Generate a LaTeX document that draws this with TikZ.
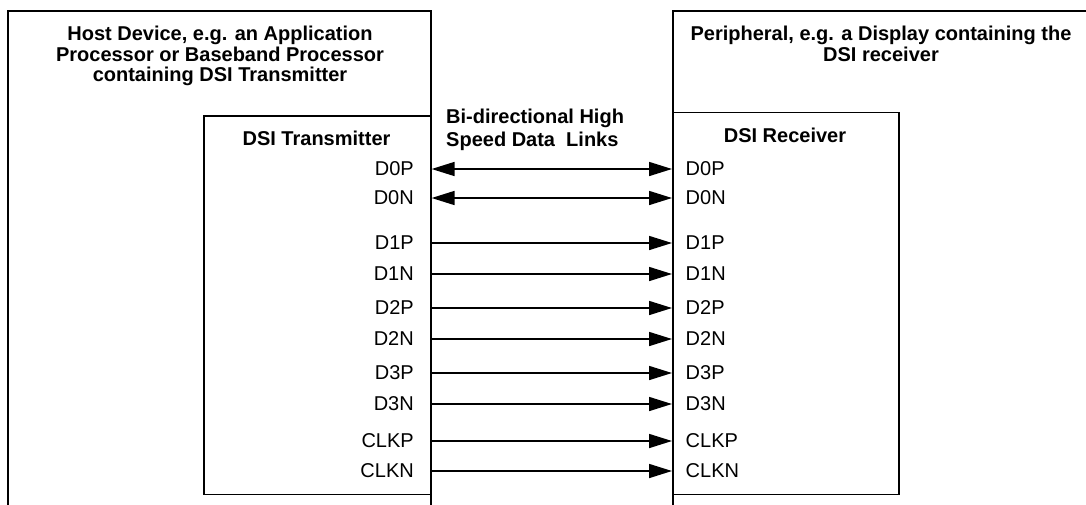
\documentclass[tikz,border=0pt]{standalone}
\usepackage{fontspec}
\setmainfont{Liberation Sans}
\usetikzlibrary{arrows.meta}
\begin{document}
\begin{tikzpicture}[x=1pt,y=-1pt,
  box/.style={draw=black, line width=1.6pt, rectangle, inner sep=0pt},
  title/.style={font=\bfseries\fontsize{20}{20.5}\selectfont, align=center, inner sep=0pt},
  blabel/.style={font=\bfseries\fontsize{20}{23}\selectfont, inner sep=0pt},
  pin/.style={font=\fontsize{20}{24}\selectfont, inner sep=0pt},
  tip/.tip={Triangle[length=23pt,width=14pt]},
  link/.style={line width=1.6pt, -tip},
  blink/.style={line width=1.6pt, tip-tip}]
\useasboundingbox (0,0) rectangle (1086,504);
\fill[white] (0,0) rectangle (1086,504);
% boxes
\node[box, anchor=north west, minimum width=423pt, minimum height=515pt] (host) at (7,10) {};
\node[box, anchor=north west, minimum width=227pt, minimum height=378.5pt] (tx) at (203,115) {};
\node[box, anchor=north west, minimum width=420pt, minimum height=515pt] (peri) at (672,10) {};
\node[box, anchor=north west, minimum width=226pt, minimum height=382pt] (rx) at (672,111.5) {};
% titles
\node[title, anchor=north] (hostt) at (220,26.2) {Host Device, e.g. an Application\\Processor or Baseband Processor\\containing DSI Transmitter};
\node[title, anchor=north] (perit) at (881,26.2) {Peripheral, e.g. a Display containing the\\DSI receiver};
\node[blabel, anchor=base] (txt) at (316.5,145) {DSI Transmitter};
\node[blabel, anchor=base] (rxt) at (785,142) {DSI Receiver};
\node[blabel, anchor=north west, align=left] (links) at (446,108.7) {Bi-directional High\\Speed Data\ \ Links};
% pins
\foreach \n/\lab/\y in {0p/D0P/169, 0n/D0N/198, 1p/D1P/243, 1n/D1N/274, 2p/D2P/308, 2n/D2N/339, 3p/D3P/373, 3n/D3N/404, cp/CLKP/441, cn/CLKN/471}{
  \node[pin, anchor=east] (t\n) at (414,\y) {\lab};
  \node[pin, anchor=west] (r\n) at (685.5,\y) {\lab};
}
% links
\foreach \n in {0p,0n}{
  \draw[blink] (t\n.east -| tx.east) -- (r\n.west -| rx.west);
}
\foreach \n in {1p,1n,2p,2n,3p,3n,cp,cn}{
  \draw[link] (t\n.east -| tx.east) -- (r\n.west -| rx.west);
}
\end{tikzpicture}
\end{document}
